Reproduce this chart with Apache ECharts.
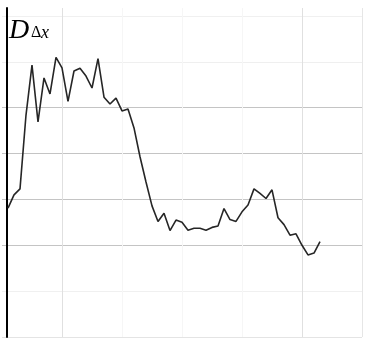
<!DOCTYPE html>
<html>
<head>
<meta charset="utf-8">
<script src="https://cdn.jsdelivr.net/npm/echarts@6/dist/echarts.min.js"></script>
<style>
html,body{margin:0;padding:0;background:#fff;}
#chart{width:372px;height:338px;}
</style>
</head>
<body>
<div id="chart"></div>
<script>
// x positions (index 1..53) and the D_Δx values
var xValues = [];
var dValues = [2.81,3.10,3.23,4.84,5.93,4.69,5.65,5.30,6.10,5.87,
               5.14,5.80,5.86,5.69,5.43,6.07,5.23,5.08,5.21,4.93,
               4.97,4.56,3.93,3.38,2.86,2.52,2.70,2.32,2.55,2.50,
               2.33,2.37,2.37,2.33,2.39,2.42,2.80,2.56,2.52,2.73,
               2.88,3.23,3.13,3.02,3.21,2.60,2.45,2.22,2.25,2.00,
               1.79,1.83,2.08];
for (var i = 0; i < dValues.length; i++) xValues.push(i + 1);
var yTicks = [0,1,2,3,4,5,6,7];
var xTicks = [0,10,20,30,40,50,60];
var titleMain = 'D';
var titleDelta = 'Δ';
var titleX = 'x';

var seriesData = xValues.map(function (x, i) { return [x, dValues[i]]; });

var chart = echarts.init(document.getElementById('chart'), null, {renderer: 'canvas'});
chart.setOption({
  animation: false,
  backgroundColor: '#ffffff',
  grid: {left: 2, top: 8, width: 360, height: 329, containLabel: false},
  xAxis: {
    type: 'value', min: xTicks[0], max: xTicks[xTicks.length - 1], interval: 10,
    axisLine: {show: false}, axisTick: {show: false}, axisLabel: {show: false},
    splitLine: {show: true, lineStyle: {width: 1,
      color: ['rgba(0,0,0,0)', '#e0e0e0', '#f6f6f6', '#f6f6f6', '#f6f6f6', '#e0e0e0', '#e6e6e6']}}
  },
  yAxis: {
    type: 'value', min: yTicks[0], max: 7 + 8 / 45.857, interval: 1,
    offset: -5,
    axisLine: {show: true, onZero: false, lineStyle: {color: '#000', width: 2}},
    axisTick: {show: false}, axisLabel: {show: false},
    splitLine: {show: true, lineStyle: {width: 1,
      color: ['#e4e4e4', '#f0f0f0', '#c4c4c4', '#c4c4c4', '#c4c4c4', '#c4c4c4', '#efefef', '#f0f0f0', 'rgba(0,0,0,0)']}}
  },
  series: [{
    type: 'line',
    data: seriesData,
    symbol: 'none',
    lineStyle: {color: '#262626', width: 1.6},
    z: 5
  }],
  graphic: [
    {type: 'text', left: 9, top: 17, z: 10,
     style: {text: titleMain, font: 'italic 28px "Liberation Serif", serif', fill: '#000'}},
    {type: 'text', left: 31, top: 25, z: 10,
     style: {text: titleDelta, font: '16px "Liberation Serif", serif', fill: '#000'}},
    {type: 'text', left: 41, top: 24, z: 10,
     style: {text: titleX, font: 'italic 18px "Liberation Serif", serif', fill: '#000'}}
  ]
});
</script>
</body>
</html>
